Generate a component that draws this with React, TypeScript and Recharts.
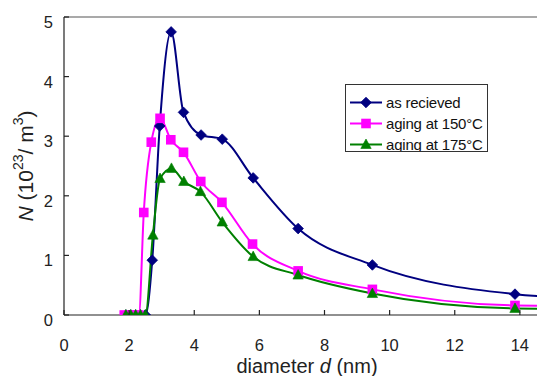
import React from 'react';
import { LineChart, Line, XAxis, YAxis, Legend, ReferenceLine } from 'recharts';

// ---- data (diameter d in nm, N in 10^23 / m^3) ----
const receivedD = [1.9, 2.05, 2.2, 2.35, 2.5, 2.71, 2.94, 3.29, 3.67, 4.21, 4.86, 5.81, 7.19, 9.47, 13.85, 16];
const receivedN = [0, 0, 0, 0, 0, 0.92, 3.17, 4.75, 3.4, 3.02, 2.95, 2.3, 1.45, 0.84, 0.35, 0.28];

const aging150D = [1.85, 2.0, 2.15, 2.3, 2.45, 2.68, 2.95, 3.28, 3.67, 4.2, 4.85, 5.79, 7.19, 9.47, 13.85, 16];
const aging150N = [0, 0, 0, 0, 1.72, 2.9, 3.3, 2.94, 2.73, 2.24, 1.89, 1.19, 0.74, 0.43, 0.16, 0.15];

const aging175D = [1.9, 2.05, 2.2, 2.35, 2.5, 2.73, 2.95, 3.3, 3.68, 4.19, 4.86, 5.81, 7.19, 9.47, 13.85, 16];
const aging175N = [0, 0, 0, 0, 0, 1.34, 2.29, 2.46, 2.24, 2.07, 1.56, 0.98, 0.67, 0.36, 0.11, 0.1];

const seriesNames = ['as recieved', 'aging at 150°C', 'aging at 175°C'];
const xTicks = [0, 2, 4, 6, 8, 10, 12, 14];
const yTicks = [0, 1, 2, 3, 4, 5];

const toPoints = (xs: number[], ys: number[]) => xs.map((d, i) => ({ d, n: ys[i] }));
const receivedData = toPoints(receivedD, receivedN);
const aging150Data = toPoints(aging150D, aging150N);
const aging175Data = toPoints(aging175D, aging175N);

// ---- styles ----
const FONT = '"Liberation Sans", Arial, Helvetica, sans-serif';
const COLORS = ['#000080', '#FF00FF', '#008000'];
const CHART_W = 600;
const CHART_H = 368;
const PLOT_LEFT = 56;
const PLOT_BOTTOM = 307;
const AXIS_COLOR = '#222';

const marker = (kind: number, cx: number, cy: number, key?: string) => {
  if (kind === 0) {
    const r = 5.3;
    return (
      <polygon key={key} points={`${cx},${cy - r} ${cx + r},${cy} ${cx},${cy + r} ${cx - r},${cy}`}
        fill={COLORS[0]} stroke={COLORS[0]} strokeWidth={0.8} />
    );
  }
  if (kind === 1) {
    const h = 4.8;
    return <rect key={key} x={cx - h} y={cy - h} width={2 * h} height={2 * h} fill={COLORS[1]} />;
  }
  const w = 5.2;
  return (
    <polygon key={key} points={`${cx},${cy - 5.5} ${cx + w},${cy + 4} ${cx - w},${cy + 4}`}
      fill={COLORS[2]} stroke={COLORS[2]} strokeWidth={0.6} />
  );
};

const dotFor = (kind: number) => (p: any) => {
  if (p.cx == null || p.cy == null) return <g key={`e${kind}-${p.index}`} />;
  return marker(kind, p.cx, p.cy, `m${kind}-${p.index}`);
};

const XTick = (props: any) => {
  const { x, payload } = props;
  return (
    <g>
      <line x1={x} x2={x} y1={PLOT_BOTTOM} y2={PLOT_BOTTOM - 5} stroke={AXIS_COLOR} strokeWidth={1.2} />
      <text x={x} y={PLOT_BOTTOM + 30} textAnchor="middle" dominantBaseline="central"
        fontSize={16.5} fill={AXIS_COLOR} fontFamily={FONT}>{payload.value}</text>
    </g>
  );
};

const YTick = (props: any) => {
  const { y, payload } = props;
  return (
    <g>
      <line x1={PLOT_LEFT} x2={PLOT_LEFT + 5} y1={y} y2={y} stroke={AXIS_COLOR} strokeWidth={1.2} />
      <text x={45} y={y + 5} textAnchor="end" dominantBaseline="central"
        fontSize={16.5} fill={AXIS_COLOR} fontFamily={FONT}>{payload.value}</text>
    </g>
  );
};

const XTitle = () => (
  <text x={299} y={358} textAnchor="middle" dominantBaseline="central" fontSize={20}
    fill={AXIS_COLOR} fontFamily={FONT}>
    <tspan>{'diameter '}</tspan>
    <tspan fontStyle="italic">d</tspan>
    <tspan>{' (nm)'}</tspan>
  </text>
);

const YTitle = () => (
  <text x={17} y={158} transform="rotate(-90, 17, 158)" textAnchor="middle" dominantBaseline="central"
    fontSize={21} fill={AXIS_COLOR} fontFamily={FONT}>
    <tspan fontStyle="italic">N</tspan>
    <tspan>{' (10'}</tspan>
    <tspan dy={-7} fontSize={14}>23</tspan>
    <tspan dy={7}>{'/ m'}</tspan>
    <tspan dy={-7} fontSize={14}>3</tspan>
    <tspan dy={7}>)</tspan>
  </text>
);

const LegendBox = () => (
  <div style={{
    width: 143, height: 68, boxSizing: 'border-box', border: '1px solid #333', background: '#fff',
    overflow: 'hidden', paddingTop: 7, fontFamily: FONT, fontSize: 15, color: '#111', lineHeight: '21px',
  }}>
    {seriesNames.map((name, i) => (
      <div key={name} style={{ display: 'flex', alignItems: 'center', height: 21 }}>
        <svg width={40} height={21} style={{ flex: 'none', display: 'block' }}>
          <line x1={4} x2={36} y1={10.5} y2={10.5} stroke={COLORS[i]} strokeWidth={2} />
          {marker(i, 20, 10.5)}
        </svg>
        <span style={{ whiteSpace: 'nowrap', letterSpacing: '-0.2px' }}>{name}</span>
      </div>
    ))}
  </div>
);

export default function App() {
  return (
    <div style={{ width: 537, height: CHART_H, overflow: 'hidden', background: '#fff' }}>
      <LineChart width={CHART_W} height={CHART_H} margin={{ top: 9, right: 23, bottom: 0, left: 0 }}>
        <XAxis type="number" dataKey="d" domain={[0, 16]} ticks={xTicks} interval={0}
          axisLine={{ stroke: AXIS_COLOR, strokeWidth: 1.2 }} tickLine={false} tick={<XTick />}
          height={61} label={<XTitle />} allowDataOverflow />
        <YAxis type="number" domain={[0, 5]} ticks={yTicks} interval={0} width={56}
          axisLine={{ stroke: AXIS_COLOR, strokeWidth: 1.2 }} tickLine={false} tick={<YTick />}
          label={<YTitle />} allowDataOverflow />
        <ReferenceLine y={5} stroke="#8c8c8c" strokeWidth={1.6} ifOverflow="extendDomain" />
        <ReferenceLine x={16} stroke="#8c8c8c" strokeWidth={1.6} />
        <Line data={receivedData} dataKey="n" name={seriesNames[0]} type="monotone" stroke={COLORS[0]}
          strokeWidth={2} dot={dotFor(0)} activeDot={false} isAnimationActive={false} />
        <Line data={aging150Data} dataKey="n" name={seriesNames[1]} type="monotone" stroke={COLORS[1]}
          strokeWidth={2} dot={dotFor(1)} activeDot={false} isAnimationActive={false} />
        <Line data={aging175Data} dataKey="n" name={seriesNames[2]} type="monotone" stroke={COLORS[2]}
          strokeWidth={2} dot={dotFor(2)} activeDot={false} isAnimationActive={false} />
        <Legend content={() => <LegendBox />} verticalAlign="middle" align="center"
          wrapperStyle={{ left: 337, top: 76, width: 143, height: 68 }} />
      </LineChart>
    </div>
  );
}
